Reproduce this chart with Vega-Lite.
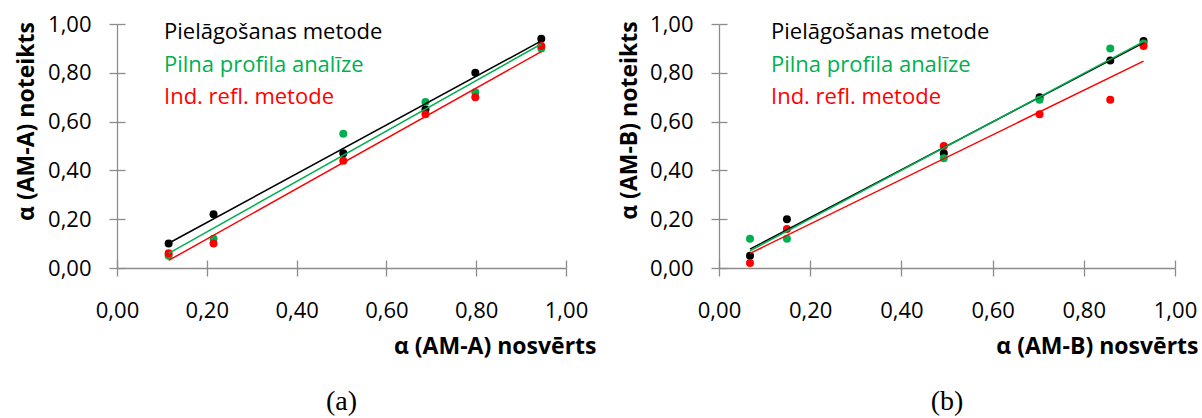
{
  "$schema": "https://vega.github.io/schema/vega-lite/v6.json",
  "background": "white",
  "padding": {"left": 14, "top": 13, "right": 0, "bottom": 0},
  "bounds": "flush",
  "spacing": 153,
  "datasets": {
    "pts": [
      {"panel": "a", "series": "Pielāgošanas metode", "x": 0.115, "y": 0.10},
      {"panel": "a", "series": "Pielāgošanas metode", "x": 0.215, "y": 0.22},
      {"panel": "a", "series": "Pielāgošanas metode", "x": 0.504, "y": 0.47},
      {"panel": "a", "series": "Pielāgošanas metode", "x": 0.687, "y": 0.65},
      {"panel": "a", "series": "Pielāgošanas metode", "x": 0.798, "y": 0.80},
      {"panel": "a", "series": "Pielāgošanas metode", "x": 0.945, "y": 0.94},
      {"panel": "a", "series": "Pilna profila analīze", "x": 0.115, "y": 0.05},
      {"panel": "a", "series": "Pilna profila analīze", "x": 0.215, "y": 0.12},
      {"panel": "a", "series": "Pilna profila analīze", "x": 0.504, "y": 0.55},
      {"panel": "a", "series": "Pilna profila analīze", "x": 0.687, "y": 0.68},
      {"panel": "a", "series": "Pilna profila analīze", "x": 0.798, "y": 0.72},
      {"panel": "a", "series": "Pilna profila analīze", "x": 0.945, "y": 0.90},
      {"panel": "a", "series": "Ind. refl. metode", "x": 0.115, "y": 0.06},
      {"panel": "a", "series": "Ind. refl. metode", "x": 0.215, "y": 0.10},
      {"panel": "a", "series": "Ind. refl. metode", "x": 0.504, "y": 0.44},
      {"panel": "a", "series": "Ind. refl. metode", "x": 0.687, "y": 0.63},
      {"panel": "a", "series": "Ind. refl. metode", "x": 0.798, "y": 0.70},
      {"panel": "a", "series": "Ind. refl. metode", "x": 0.945, "y": 0.91},
      {"panel": "b", "series": "Pielāgošanas metode", "x": 0.068, "y": 0.05},
      {"panel": "b", "series": "Pielāgošanas metode", "x": 0.149, "y": 0.20},
      {"panel": "b", "series": "Pielāgošanas metode", "x": 0.493, "y": 0.47},
      {"panel": "b", "series": "Pielāgošanas metode", "x": 0.703, "y": 0.70},
      {"panel": "b", "series": "Pielāgošanas metode", "x": 0.858, "y": 0.85},
      {"panel": "b", "series": "Pielāgošanas metode", "x": 0.931, "y": 0.93},
      {"panel": "b", "series": "Pilna profila analīze", "x": 0.068, "y": 0.12},
      {"panel": "b", "series": "Pilna profila analīze", "x": 0.149, "y": 0.12},
      {"panel": "b", "series": "Pilna profila analīze", "x": 0.493, "y": 0.45},
      {"panel": "b", "series": "Pilna profila analīze", "x": 0.703, "y": 0.69},
      {"panel": "b", "series": "Pilna profila analīze", "x": 0.858, "y": 0.90},
      {"panel": "b", "series": "Pilna profila analīze", "x": 0.931, "y": 0.92},
      {"panel": "b", "series": "Ind. refl. metode", "x": 0.068, "y": 0.02},
      {"panel": "b", "series": "Ind. refl. metode", "x": 0.149, "y": 0.16},
      {"panel": "b", "series": "Ind. refl. metode", "x": 0.493, "y": 0.50},
      {"panel": "b", "series": "Ind. refl. metode", "x": 0.703, "y": 0.63},
      {"panel": "b", "series": "Ind. refl. metode", "x": 0.858, "y": 0.69},
      {"panel": "b", "series": "Ind. refl. metode", "x": 0.931, "y": 0.91}
    ]
  },
  "config": {
    "font": "Open Sans",
    "view": {"stroke": null},
    "axis": {
      "grid": false,
      "domainColor": "#8c8c8c",
      "tickColor": "#8c8c8c",
      "domainWidth": 1.3,
      "tickWidth": 1.3,
      "tickSize": 8,
      "labelFont": "Open Sans",
      "labelFontSize": 22,
      "labelColor": "#000000",
      "titleFont": "Open Sans",
      "titleFontSize": 23,
      "titleFontWeight": "bold",
      "titleColor": "#000000"
    },
    "legend": {
      "orient": "none",
      "title": null,
      "padding": 0,
      "symbolSize": 0,
      "symbolOpacity": 0,
      "symbolStrokeWidth": 0,
      "labelOffset": 0,
      "labelFont": "Open Sans",
      "labelFontSize": 22,
      "labelLimit": 400,
      "rowPadding": 10.5
    }
  },
  "resolve": {"scale": {"color": "independent"}, "legend": {"color": "independent"}},
  "hconcat": [
    {
      "width": 449,
      "height": 244,
      "title": {"text": "(a)", "orient": "bottom", "anchor": "middle", "font": "Liberation Serif", "fontSize": 28, "fontWeight": "normal", "color": "#000000", "offset": 30},
      "data": {"name": "pts"},
      "transform": [{"filter": "datum.panel == 'a'"}],
      "layer": [
        {
          "mark": {"type": "circle", "size": 64, "opacity": 1},
          "encoding": {
            "x": {"field": "x", "type": "quantitative",
              "scale": {"domain": [0, 1], "nice": false, "zero": false},
              "axis": {"values": [0, 0.2, 0.4, 0.6, 0.8, 1], "labelExpr": "replace(format(datum.value, '.2f'), '.', ',')", "labelPadding": 34, "labelBaseline": "middle", "labelFlush": false,
                "title": "α (AM-A) nosvērts", "titleX": 479, "titleY": 78, "titleAlign": "right", "titleBaseline": "middle", "titleAnchor": null}},
            "y": {"field": "y", "type": "quantitative",
              "scale": {"domain": [0, 1], "nice": false, "zero": false},
              "axis": {"values": [0, 0.2, 0.4, 0.6, 0.8, 1], "labelExpr": "replace(format(datum.value, '.2f'), '.', ',')", "labelPadding": 18, "labelFlush": false,
                "title": "α (AM-A) noteikts", "titleX": -91, "titleY": 97, "titleAngle": -90, "titleAlign": "center", "titleBaseline": "middle", "titleAnchor": null}},
            "color": {"field": "series", "type": "nominal",
              "scale": {"domain": ["Pielāgošanas metode", "Pilna profila analīze", "Ind. refl. metode"], "range": ["#000000", "#00B050", "#FF0000"]},
              "legend": {"legendX": 25, "legendY": -3,
                "encode": {"labels": {"update": {"fill": {"signal": "datum.value === 'Pilna profila analīze' ? '#00B050' : (datum.value === 'Ind. refl. metode' ? '#FF0000' : '#000000')"}}}}}}
          }
        },
        {
          "transform": [{"regression": "y", "on": "x", "groupby": ["series"]}],
          "mark": {"type": "line", "strokeWidth": 1.5},
          "encoding": {
            "x": {"field": "x", "type": "quantitative", "axis": {"orient": "bottom", "values": [0, 0.2, 0.4, 0.6, 0.8, 1], "tickSize": -8, "labels": false, "domain": false, "title": null}},
            "y": {"field": "y", "type": "quantitative", "axis": {"orient": "left", "values": [0, 0.2, 0.4, 0.6, 0.8, 1], "tickSize": -8, "labels": false, "domain": false, "title": null}},
            "color": {"field": "series", "type": "nominal", "legend": null}
          }
        }
      ],
      "resolve": {"axis": {"x": "independent", "y": "independent"}}
    },
    {
      "width": 456,
      "height": 244,
      "title": {"text": "(b)", "orient": "bottom", "anchor": "middle", "font": "Liberation Serif", "fontSize": 28, "fontWeight": "normal", "color": "#000000", "offset": 30},
      "data": {"name": "pts"},
      "transform": [{"filter": "datum.panel == 'b'"}],
      "layer": [
        {
          "mark": {"type": "circle", "size": 64, "opacity": 1},
          "encoding": {
            "x": {"field": "x", "type": "quantitative",
              "scale": {"domain": [0, 1], "nice": false, "zero": false},
              "axis": {"values": [0, 0.2, 0.4, 0.6, 0.8, 1], "labelExpr": "replace(format(datum.value, '.2f'), '.', ',')", "labelPadding": 34, "labelBaseline": "middle", "labelFlush": false,
                "title": "α (AM-B) nosvērts", "titleX": 479, "titleY": 78, "titleAlign": "right", "titleBaseline": "middle", "titleAnchor": null}},
            "y": {"field": "y", "type": "quantitative",
              "scale": {"domain": [0, 1], "nice": false, "zero": false},
              "axis": {"values": [0, 0.2, 0.4, 0.6, 0.8, 1], "labelExpr": "replace(format(datum.value, '.2f'), '.', ',')", "labelPadding": 18, "labelFlush": false,
                "title": "α (AM-B) noteikts", "titleX": -90, "titleY": 96, "titleAngle": -90, "titleAlign": "center", "titleBaseline": "middle", "titleAnchor": null}},
            "color": {"field": "series", "type": "nominal",
              "scale": {"domain": ["Pielāgošanas metode", "Pilna profila analīze", "Ind. refl. metode"], "range": ["#000000", "#00B050", "#FF0000"]},
              "legend": {"legendX": 30, "legendY": -3,
                "encode": {"labels": {"update": {"fill": {"signal": "datum.value === 'Pilna profila analīze' ? '#00B050' : (datum.value === 'Ind. refl. metode' ? '#FF0000' : '#000000')"}}}}}}
          }
        },
        {
          "transform": [{"regression": "y", "on": "x", "groupby": ["series"]}],
          "mark": {"type": "line", "strokeWidth": 1.5},
          "encoding": {
            "x": {"field": "x", "type": "quantitative", "axis": {"orient": "bottom", "values": [0, 0.2, 0.4, 0.6, 0.8, 1], "tickSize": -8, "labels": false, "domain": false, "title": null}},
            "y": {"field": "y", "type": "quantitative", "axis": {"orient": "left", "values": [0, 0.2, 0.4, 0.6, 0.8, 1], "tickSize": -8, "labels": false, "domain": false, "title": null}},
            "color": {"field": "series", "type": "nominal", "legend": null}
          }
        }
      ],
      "resolve": {"axis": {"x": "independent", "y": "independent"}}
    }
  ]
}
